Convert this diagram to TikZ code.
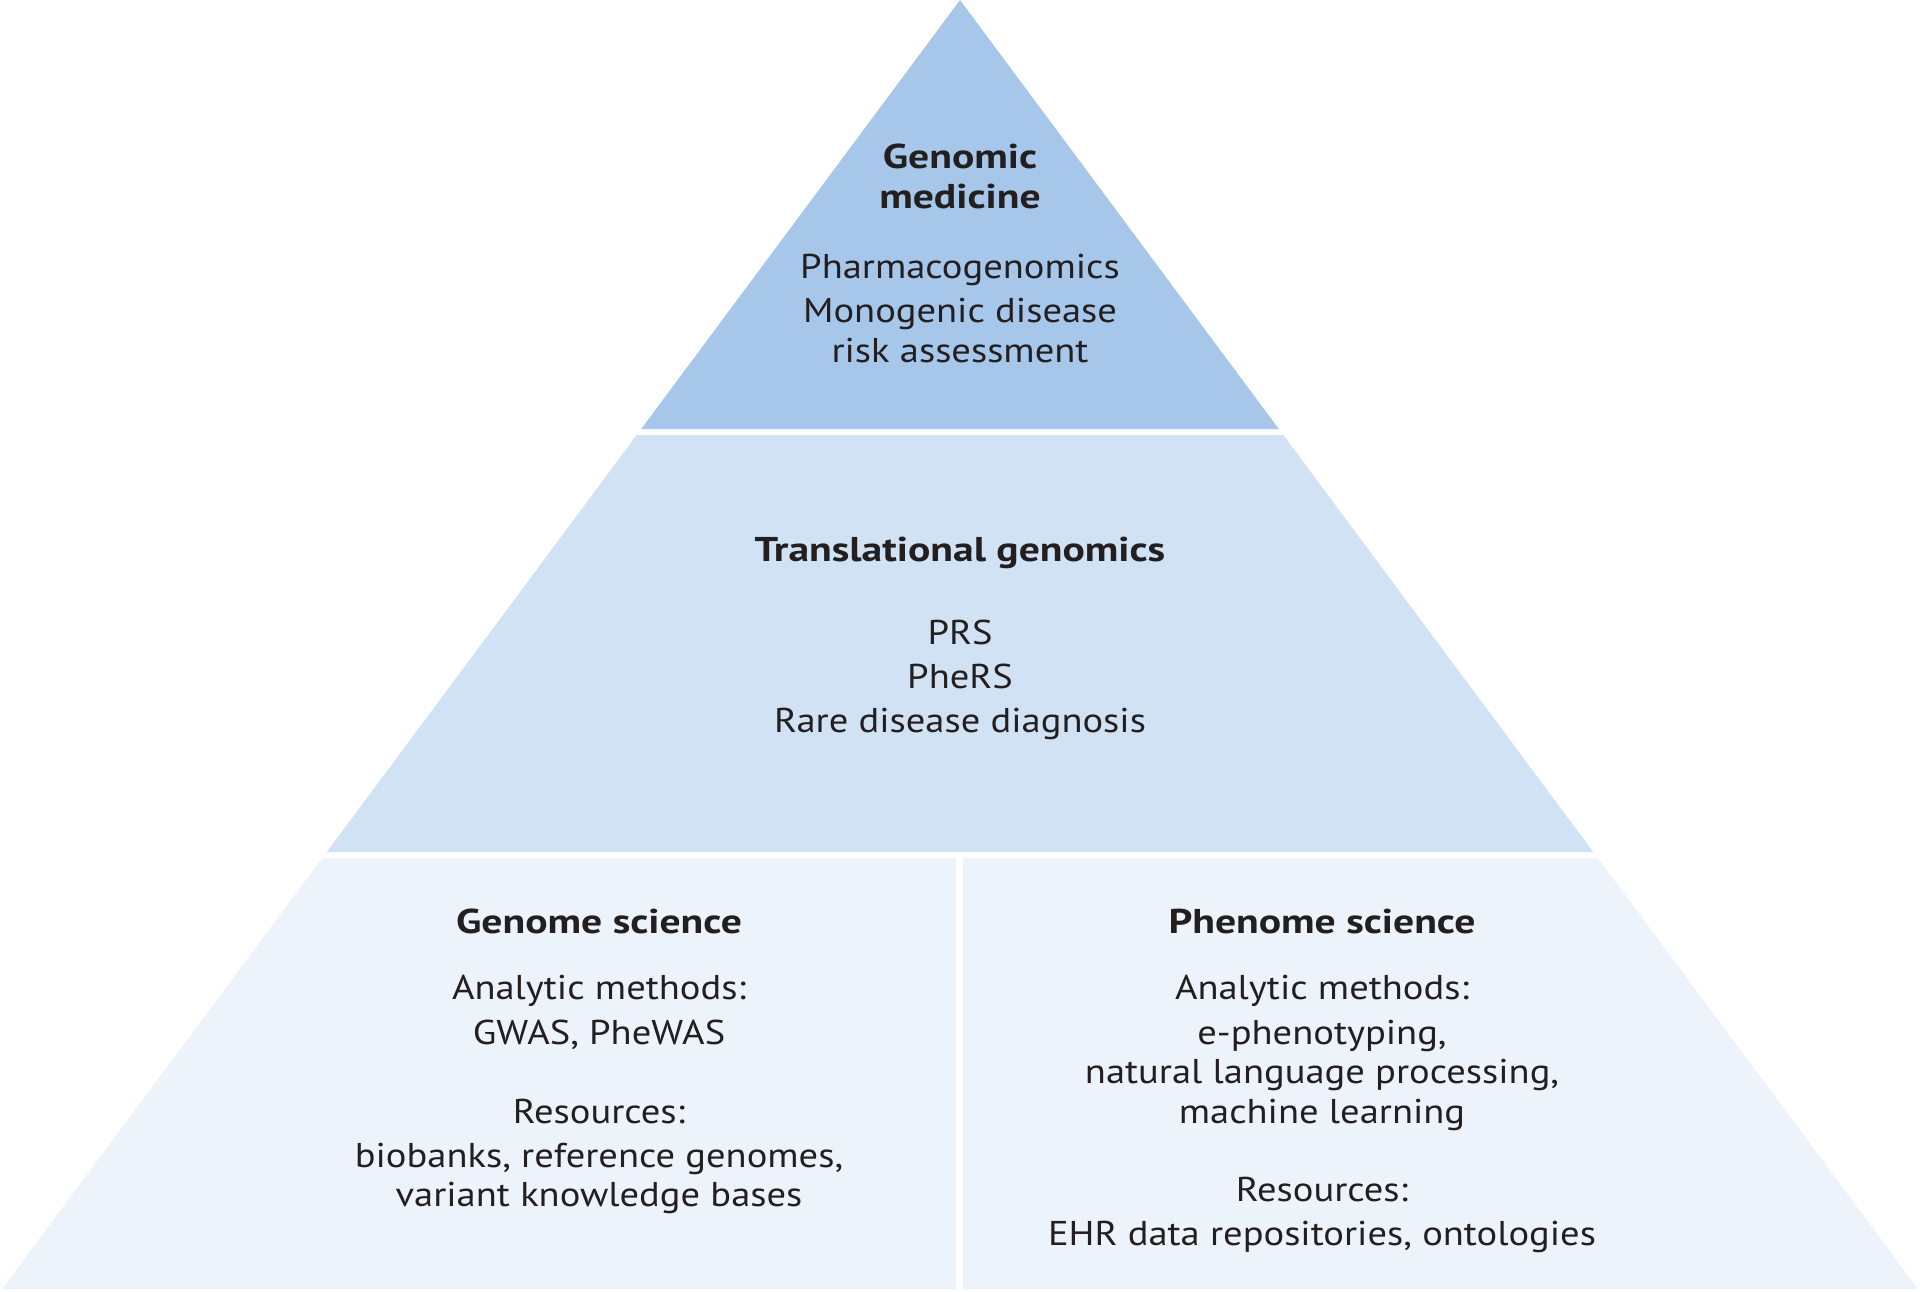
\documentclass[tikz,border=0pt]{standalone}
\usepackage{fontspec}
\setmainfont{PT Sans}[FakeStretch=1.12]
\newfontfamily\boldfont{PT Sans}[FakeStretch=1.21]
\definecolor{tierA}{RGB}{166,199,233}
\definecolor{tierB}{RGB}{208,226,243}
\definecolor{tierC}{RGB}{236,243,250}
\definecolor{ink}{RGB}{35,31,32}
\tikzset{
  tier/.style={draw=none},
  txt/.style={anchor=base,inner sep=0pt,text=ink,font=\fontsize{17.2}{20}\selectfont},
  ttl/.style={txt,font=\boldfont\fontsize{17.2}{20}\selectfont\bfseries}
}
\begin{document}
\begin{tikzpicture}[x=0.5pt,y=-0.5pt]
\useasboundingbox (0,0) rectangle (1920,1291);
% tiers
\fill[tierA,tier] (960,0) -- (1278.8,429) -- (641.2,429) -- cycle;
\fill[tierB,tier] (636.7,435) -- (1283.3,435) -- (1593.2,852) -- (326.8,852) -- cycle;
\fill[tierC,tier] (322.3,858) -- (956,858) -- (956,1289) -- (2,1289) -- cycle;
\fill[tierC,tier] (963,858) -- (1597.7,858) -- (1918,1289) -- (963,1289) -- cycle;
% top tier
\node[ttl] (t1a) at (960,168) {Genomic};
\node[ttl] (t1b) at (960,208) {medicine};
\node[txt] (t1c) at (960,278) {Pharmacogenomics};
\node[txt] (t1d) at (960,322) {Monogenic disease};
\node[txt] (t1e) at (960,362) {risk assessment};
% middle tier
\node[ttl] (t2a) at (960,561) {Translational genomics};
\node[txt] (t2b) at (960,644) {PRS};
\node[txt] (t2c) at (960,688) {PheRS};
\node[txt] (t2d) at (960,732) {Rare disease diagnosis};
% genome science
\node[ttl] (g1) at (599,933) {Genome science};
\node[txt] (g2) at (599,999) {Analytic methods:};
\node[txt] (g3) at (599,1044) {GWAS, PheWAS};
\node[txt] (g4) at (599,1123) {Resources:};
\node[txt] (g5) at (599,1167) {biobanks, reference genomes,};
\node[txt] (g6) at (599,1206) {variant knowledge bases};
% phenome science
\node[ttl] (p1) at (1322,933) {Phenome science};
\node[txt] (p2) at (1322,999) {Analytic methods:};
\node[txt] (p3) at (1322,1044) {e-phenotyping,};
\node[txt] (p4) at (1322,1083) {natural language processing,};
\node[txt] (p5) at (1322,1123) {machine learning};
\node[txt] (p6) at (1322,1201) {Resources:};
\node[txt] (p7) at (1322,1245) {EHR data repositories, ontologies};
\end{tikzpicture}
\end{document}
